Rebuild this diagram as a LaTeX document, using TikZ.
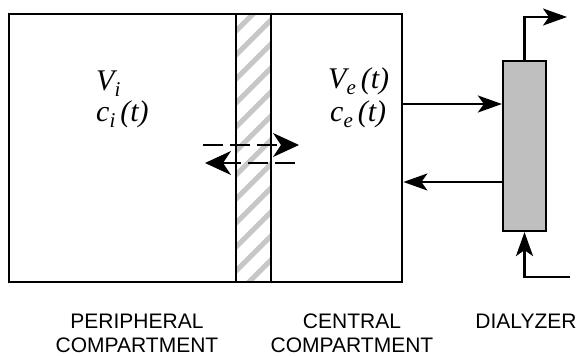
\documentclass[tikz,border=0pt]{standalone}
\usepackage{fontspec}
\setmainfont{Liberation Serif}[ItalicFont={Liberation Serif Italic}]
\setsansfont{Liberation Sans}
\usetikzlibrary{arrows.meta}
\newcommand{\lowsub}[1]{\raisebox{-6pt}{\fontsize{21}{21}\selectfont #1}}
\begin{document}
\begin{tikzpicture}[x=1pt,y=-1pt,
  comp/.style={draw, line width=2.4pt, inner sep=0pt, anchor=north west, minimum height=268pt},
  flow/.style={line width=2.2pt, -{Stealth[length=24pt,width=17pt,inset=6pt]}},
  diff/.style={line width=1.6pt, dash pattern=on 20pt off 7pt, -{Stealth[length=26pt,width=24pt,inset=8pt]}},
  mathtxt/.style={anchor=base west, inner sep=0pt, font=\fontsize{30}{34}\selectfont\itshape},
  lbl/.style={align=center, font=\sffamily\fontsize{21}{24}\selectfont}]
\useasboundingbox (0,0) rectangle (579,356);
% hatched membrane
\begin{scope}
  \clip (235,13) rectangle (270,281);
  \foreach \y in {13,37,...,337} \draw[black!22, line width=5pt] (230,\y) -- (275,\y-45);
\end{scope}
\node[comp, line width=1.5pt, minimum width=35pt] (memb) at (235,13) {};
\node[comp, minimum width=227pt] (periph) at (8,13) {};
\node[comp, minimum width=131pt] (central) at (270,13) {};
% dialyzer
\node[draw, line width=2.2pt, fill=black!25, inner sep=0pt, minimum width=43pt, minimum height=170pt] (dial) at (524.5,146) {};
% texts
\node[mathtxt] (vi) at (96,90) {V\lowsub{i}};
\node[mathtxt] (ci) at (96,121) {c\lowsub{i}\,(t)};
\node[mathtxt] (ve) at (328,88) {V\lowsub{e}\,(t)};
\node[mathtxt] (ce) at (330,121) {c\lowsub{e}\,(t)};
% diffusion arrows
\coordinate (d1s) at (203,145);
\coordinate (d1e) at (299,145);
\coordinate (d2s) at (295,163);
\coordinate (d2e) at (205,163);
\draw[diff] (d1s) -- (d1e);
\draw[diff] (d2s) -- (d2e);
% dialyzer flows
\draw[flow] (central.east |- 0,104) -- (dial.west |- 0,104);
\draw[flow] (dial.west |- 0,182) -- (central.east |- 0,182);
\coordinate (outend) at (567,17);
\coordinate (inend) at (570,277);
\draw[flow] (dial.north) |- (outend);
\draw[flow] (inend) -| (dial.south);
% labels
\node[lbl] (pl) at (137,333) {PERIPHERAL\\COMPARTMENT};
\node[lbl] (cl) at (352,333) {CENTRAL\\COMPARTMENT};
\node[lbl] (dl) at (526,321) {DIALYZER};
\end{tikzpicture}
\end{document}
